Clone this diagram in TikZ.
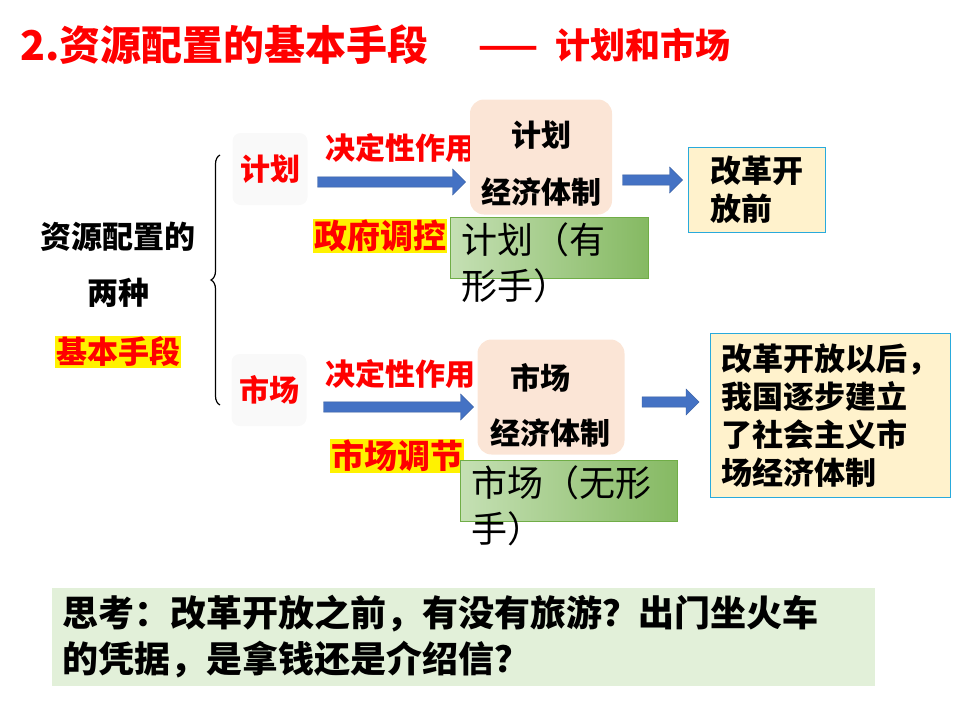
\documentclass[tikz,border=0pt]{standalone}
\usepackage{fontspec}
\setmainfont{Noto Sans CJK SC}
\usetikzlibrary{decorations.pathreplacing,arrows.meta,shapes.arrows}
\definecolor{tred}{RGB}{255,0,0}
\definecolor{pinkbox}{RGB}{251,229,214}
\definecolor{grnA}{RGB}{197,224,180}
\definecolor{grnB}{RGB}{112,173,71}
\definecolor{blu}{RGB}{68,114,196}
\definecolor{ylw}{RGB}{255,242,204}
\definecolor{pgrn}{RGB}{226,240,217}
\begin{document}
\begin{tikzpicture}[x=1pt,y=-1pt,
 bt/.style={font=\fontsize{31}{36}\selectfont\bfseries},
 rt/.style={bt,text=tred},
 hl/.style={rt,fill=yellow,inner sep=1pt},
 graybox/.style={fill=gray!5,rounded corners=8pt,minimum width=75,minimum height=72},
 pbox/.style={fill=pinkbox,rounded corners=14pt},
 gbox/.style={draw=grnB,left color=grnA,right color=grnB!85,minimum width=198,minimum height=61,anchor=north west},
 barrow/.style={single arrow,fill=blu,draw=blu!80!black,single arrow head extend=5pt,minimum height=#1,minimum width=26,inner sep=3pt},
 ybox/.style={draw=blu!60!cyan,fill=ylw,anchor=north west,align=left,bt,inner sep=8pt}]
\useasboundingbox (0,0) rectangle (960,720);
\node[anchor=west,font=\fontsize{41}{46}\selectfont\bfseries,text=tred,inner sep=0] (title) at (20,45) {2.资源配置的基本手段};
\node[anchor=west,font=\fontsize{35}{40}\selectfont\bfseries,text=tred,inner sep=0] (title2) at (478,45) {——\; 计划和市场};
\node[bt] (l1) at (118,237) {资源配置的};
\node[bt] (l2) at (118,293) {两种};
\node[hl] (l3) at (118,352) {基本手段};
\draw[very thick,decorate,decoration={brace,amplitude=9pt,mirror}] (220,155) -- (220,405);
\node[graybox,rt,font=\fontsize{30}{34}\selectfont\bfseries] (jh) at (270,169) {计划};
\node[graybox,rt,font=\fontsize{30}{34}\selectfont\bfseries] (sc) at (269,390) {市场};
\node[rt,anchor=west,inner sep=0,font=\fontsize{30}{34}\selectfont\bfseries] (d1) at (325,148) {决定性作用};
\node[rt,anchor=west,inner sep=0,font=\fontsize{30}{34}\selectfont\bfseries] (d2) at (325,374) {决定性作用};
\node[hl,anchor=west,font=\fontsize{33}{36}\selectfont\bfseries] (z1) at (313,236) {政府调控};
\node[hl,anchor=west,font=\fontsize{33}{36}\selectfont\bfseries] (z2) at (330,456) {市场调节};
\node[pbox,minimum width=142,minimum height=115] (p1) at (541,157) {};
\node[bt,font=\fontsize{30}{34}\selectfont\bfseries] at (541,135) {计划};
\node[bt,font=\fontsize{30}{34}\selectfont\bfseries] at (541,192) {经济体制};
\node[pbox,minimum width=147,minimum height=115] (p2) at (551,397) {};
\node[bt,font=\fontsize{30}{34}\selectfont\bfseries] at (540,378) {市场};
\node[bt,font=\fontsize{30}{34}\selectfont\bfseries] at (550,433) {经济体制};
\node[barrow=148] (a1) at (389,182) {};
\node[barrow=150] (a2) at (396,407) {};
\node[gbox] (g1) at (450,217) {};
\node[anchor=north west,align=left,font=\fontsize{36}{46}\selectfont,inner sep=0] at (461,222) {计划（有\\形手）};
\node[gbox,minimum width=217] (g2) at (460,460) {};
\node[anchor=north west,align=left,font=\fontsize{36}{46}\selectfont,inner sep=0] at (471,465) {市场（无形\\手）};
\node[barrow=60] (a3) at (650,180) {};
\node[barrow=57] (a4) at (668,402) {};
\node[ybox,minimum width=137,minimum height=85,font=\fontsize{31}{38}\selectfont\bfseries] (y1) at (688,147) {改革开\\放前};
\node[ybox,minimum width=240,minimum height=164,font=\fontsize{31}{38}\selectfont\bfseries] (y2) at (710,333) {改革开放以后，\\我国逐步建立\\了社会主义市\\场经济体制};
\node[fill=pgrn,anchor=north west,minimum width=823,minimum height=98] (bx) at (52,588) {};
\node[anchor=north west,align=left,font=\fontsize{36}{46}\selectfont\bfseries,inner sep=0] (bt) at (62,595) {思考：改革开放之前，有没有旅游？出门坐火车\\的凭据，是拿钱还是介绍信？};
\end{tikzpicture}
\end{document}
